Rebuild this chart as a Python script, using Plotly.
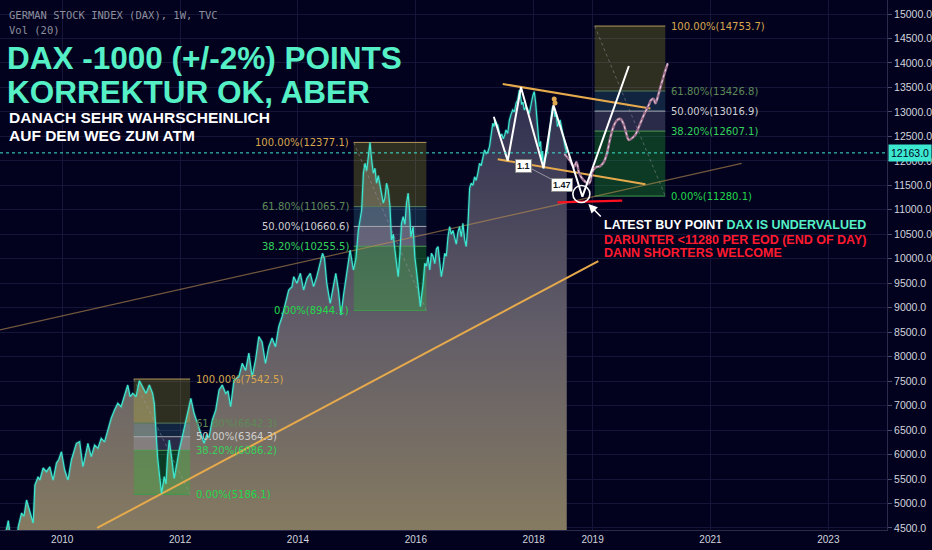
import plotly.graph_objects as go

# ---------------- data ----------------
price_points = [
    (2008.944, 4380), (2009.012, 4300), (2009.063, 4520), (2009.085, 4650), (2009.113, 4400),
    (2009.181, 4100), (2009.232, 4300), (2009.254, 4526), (2009.311, 4806), (2009.350, 4740),
    (2009.395, 5072), (2009.451, 4833), (2009.507, 4602), (2009.536, 5378), (2009.591, 5548),
    (2009.620, 5480), (2009.676, 5725), (2009.733, 5650), (2009.789, 5752), (2009.845, 5480),
    (2009.902, 5827), (2009.941, 5900), (2009.987, 6058), (2010.042, 5685), (2010.098, 5480),
    (2010.155, 5889), (2010.194, 6050), (2010.240, 6230), (2010.296, 6264), (2010.351, 5752),
    (2010.397, 6000), (2010.436, 6230), (2010.493, 5957), (2010.549, 6195), (2010.605, 6130),
    (2010.662, 6332), (2010.718, 6260), (2010.774, 6502), (2010.831, 6741), (2010.887, 6911),
    (2010.943, 7047), (2010.999, 6980), (2011.056, 7217), (2011.112, 7421), (2011.152, 7183),
    (2011.196, 7250), (2011.253, 7183), (2011.309, 7509), (2011.365, 7380), (2011.422, 7250),
    (2011.478, 7421), (2011.534, 7250), (2011.562, 7047), (2011.591, 6366), (2011.618, 5950),
    (2011.647, 5617), (2011.686, 5209), (2011.731, 5550), (2011.760, 5400), (2011.787, 5957),
    (2011.816, 6298), (2011.861, 5890), (2011.900, 5514), (2011.946, 5820), (2011.985, 6093),
    (2012.035, 6350), (2012.098, 6706), (2012.137, 6900), (2012.183, 7149), (2012.238, 6843),
    (2012.294, 6639), (2012.351, 6434), (2012.407, 6230), (2012.449, 6400), (2012.491, 6350),
    (2012.547, 6706), (2012.605, 6911), (2012.661, 7319), (2012.716, 7421), (2012.774, 7250),
    (2012.813, 7300), (2012.858, 6979), (2012.914, 7523), (2012.998, 7591), (2013.054, 7864),
    (2013.112, 7720), (2013.167, 8075), (2013.223, 7591), (2013.280, 7932), (2013.336, 8408),
    (2013.392, 8300), (2013.449, 7864), (2013.505, 8204), (2013.561, 8380), (2013.618, 8204),
    (2013.674, 8612), (2013.730, 8816), (2013.787, 9089), (2013.843, 9362), (2013.899, 9430),
    (2013.928, 9634), (2013.983, 9500), (2014.041, 9703), (2014.096, 9362), (2014.152, 9600),
    (2014.209, 9703), (2014.265, 9430), (2014.321, 9640), (2014.378, 9907), (2014.417, 10111),
    (2014.451, 10000), (2014.490, 9498), (2014.547, 9089), (2014.603, 9430), (2014.642, 9703),
    (2014.688, 9350), (2014.730, 8850), (2014.772, 9250), (2014.814, 9600), (2014.856, 9907),
    (2014.885, 10179), (2014.941, 9770), (2014.983, 10000), (2015.025, 10587), (2015.081, 10996),
    (2015.110, 11747), (2015.138, 11951), (2015.166, 11800), (2015.194, 12050), (2015.223, 12377),
    (2015.250, 12019), (2015.279, 11747), (2015.307, 11850), (2015.334, 11543), (2015.363, 11700),
    (2015.392, 11480), (2015.419, 11339), (2015.448, 11135), (2015.476, 11250), (2015.503, 11543),
    (2015.532, 11400), (2015.561, 11070), (2015.588, 10383), (2015.617, 10500), (2015.645, 10179),
    (2015.672, 9907), (2015.701, 9634), (2015.730, 10100), (2015.757, 10723), (2015.786, 10859),
    (2015.815, 10700), (2015.842, 11135), (2015.870, 11339), (2015.896, 10950), (2015.916, 10450),
    (2015.954, 10655), (2015.983, 10042), (2016.010, 9770), (2016.039, 9498), (2016.059, 9300),
    (2016.078, 9021), (2016.098, 9250), (2016.124, 9498), (2016.152, 9907), (2016.179, 9850),
    (2016.208, 10042), (2016.236, 9770), (2016.264, 10111), (2016.293, 10050), (2016.322, 9900),
    (2016.349, 10200), (2016.377, 10247), (2016.406, 9900), (2016.433, 9634), (2016.462, 9850),
    (2016.490, 10111), (2016.517, 10050), (2016.546, 10450), (2016.574, 10655), (2016.602, 10500),
    (2016.630, 10580), (2016.659, 10450), (2016.686, 10300), (2016.715, 10550), (2016.743, 10655),
    (2016.771, 10450), (2016.799, 10723), (2016.828, 10400), (2016.855, 10250), (2016.884, 10700),
    (2016.913, 11445), (2016.940, 11543), (2016.968, 11500), (2016.997, 11675), (2017.024, 11600),
    (2017.052, 11750), (2017.081, 11951), (2017.108, 11900), (2017.137, 12053), (2017.166, 12222),
    (2017.193, 12150), (2017.221, 12180), (2017.250, 12290), (2017.277, 12494), (2017.306, 12767),
    (2017.326, 12700), (2017.345, 12835), (2017.369, 12760), (2017.390, 12733), (2017.412, 12600),
    (2017.436, 12494), (2017.458, 12550), (2017.483, 12450), (2017.509, 12530), (2017.530, 12631),
    (2017.559, 12560), (2017.588, 12835), (2017.615, 12950), (2017.644, 13039), (2017.673, 13000),
    (2017.700, 13175), (2017.729, 13250), (2017.757, 13447), (2017.779, 13300), (2017.796, 13150),
    (2017.818, 13200), (2017.841, 13039), (2017.868, 13100), (2017.897, 13050), (2017.926, 12971),
    (2017.948, 13150), (2017.970, 13243), (2017.990, 13350), (2018.010, 13413), (2018.032, 13200),
    (2018.049, 12900), (2018.066, 12631), (2018.095, 12290), (2018.117, 12400), (2018.134, 12018),
    (2018.151, 12200), (2018.168, 11848), (2018.185, 12000), (2018.207, 12086), (2018.235, 12222),
    (2018.257, 12450), (2018.281, 12767), (2018.303, 12950), (2018.320, 13106), (2018.342, 13050),
    (2018.362, 12900), (2018.382, 12950), (2018.404, 12699), (2018.426, 12750), (2018.449, 12835),
    (2018.471, 12700), (2018.488, 12562), (2018.510, 12450), (2018.534, 12290), (2018.561, 12163),
]
price_years = [p[0] for p in price_points]
price_values = [p[1] for p in price_points]

current_price = 12163.0

# Fibonacci retracements: start/end year and levels (0%, 38.2%, 50%, 61.8%, 100%)
fib_ratios = [0.0, 0.382, 0.5, 0.618, 1.0]
fib_start = [2011.213, 2014.946, 2019.034]
fib_end = [2012.171, 2016.179, 2020.233]
fib_2011 = [5186.1, 6086.2, 6364.3, 6642.3, 7542.5]
fib_2015 = [8944.1, 10255.5, 10660.6, 11065.7, 12377.1]
fib_2019 = [11280.1, 12607.1, 13016.9, 13426.8, 14753.7]
fib_levels = [fib_2011, fib_2015, fib_2019]
fib_label_side = ["right", "left", "right"]

# drawings
trend_long_x, trend_long_y = [2010.593, 2019.097], [4500, 9954]
trend_brown_x, trend_brown_y = [2008.944, 2021.529], [8545, 11950]
channel_top_x, channel_top_y = [2017.475, 2019.980], [13570, 13070]
channel_bot_x, channel_bot_y = [2017.390, 2019.896], [12032, 11521]
zigzag_x = [2017.323, 2017.559, 2017.784, 2018.167, 2018.336, 2018.826, 2019.615]
zigzag_y = [12902, 12003, 13503, 11848, 13141, 11268, 13938]
forecast_x = [2018.522, 2018.607, 2018.686, 2018.725, 2018.771, 2018.843, 2018.940, 2018.995,
              2019.037, 2019.080, 2019.130, 2019.193, 2019.248, 2019.299, 2019.358, 2019.417,
              2019.473, 2019.531, 2019.569, 2019.615, 2019.671, 2019.722, 2019.798, 2019.869,
              2019.953, 2019.992, 2020.034, 2020.065, 2020.122, 2020.161, 2020.195, 2020.237, 2020.274]
forecast_y = [12140, 12018, 11880, 11977, 11752, 11609, 11541, 11772,
              11853, 11880, 11894, 11983, 12180, 12467, 12712, 12835,
              12855, 12732, 12569, 12426, 12467, 12528, 12733, 12937,
              13141, 13243, 13264, 13176, 13380, 13550, 13686, 13856, 13993]
support_x, support_y = [2018.404, 2019.502], [11153, 11186]
circle_x, circle_y = [2018.809], [11322]
dots_x, dots_y = [2018.348, 2018.362], [13264, 13182]
ext_x, ext_y = [2017.947, 2018.454], [11848, 11527]
ratio_labels = [("1.1", 2017.830, 11895), ("1.47", 2018.488, 11517)]
arrow_head = (2018.928, 11119)
arrow_tail = (2019.164, 10833)

x_ticks = [2010, 2012, 2014, 2016, 2018, 2019, 2021, 2023]
y_ticks = list(range(4500, 15001, 500))

# ---------------- styling ----------------
BG = "#02021f"
GRID = "#15153a"
CYAN = "#3de8d0"
AQUA_TXT = "#55f0c6"
RED = "#ff1a2e"
ORANGE = "#e6aa4c"

W, H = 932, 550
ML, MR, MT, MB = 0, 41, 0, 20
PW, PH = W - ML - MR, H - MT - MB


def px(x):
    return x / PW


def py(y):
    return 1 - y / PH


fig = go.Figure()

# area under the price line
fig.add_trace(go.Scatter(
    x=price_years, y=price_values, mode="lines", line=dict(width=0),
    fill="tozeroy",
    fillgradient=dict(type="vertical", start=4459, stop=13600,
                      colorscale=[[0, "#857a61"], [0.45, "#625d68"], [1, "#2c2c4e"]]),
    hoverinfo="skip", showlegend=False))

# Fibonacci boxes
zone_colors = ["rgba(40,190,50,0.30)", "rgba(180,190,220,0.22)",
               "rgba(80,180,200,0.20)", "rgba(210,210,40,0.22)"]
line_colors = ["#3f9a4c", "#4f9a52", "#a8aab0", "#557a5c", "#b49a5a"]
label_colors = ["#22d84a", "#34d35a", "#cfcfcf", "#5f8a58", "#d8a74c"]
annotations = []
for k, lv in enumerate(fib_levels):
    x0, x1 = fib_start[k], fib_end[k]
    for i in range(4):
        fig.add_trace(go.Scatter(
            x=[x0, x1, x1, x0, x0], y=[lv[i], lv[i], lv[i + 1], lv[i + 1], lv[i]],
            mode="lines", fill="toself", fillcolor=zone_colors[i], line=dict(width=0),
            hoverinfo="skip", showlegend=False))
    for i in range(5):
        fig.add_trace(go.Scatter(
            x=[x0, x1], y=[lv[i], lv[i]], mode="lines",
            line=dict(color=line_colors[i], width=1), hoverinfo="skip", showlegend=False))
    fig.add_trace(go.Scatter(
        x=[x0, x1], y=[lv[4], lv[0]], mode="lines",
        line=dict(color="rgba(160,160,175,0.45)", width=1, dash="dot"),
        hoverinfo="skip", showlegend=False))
    for i in range(5):
        txt = f"{fib_ratios[i] * 100:.2f}%({lv[i]:.1f})"
        if fib_label_side[k] == "left":
            annotations.append(dict(x=x0, y=lv[i], xref="x", yref="y", text=txt, showarrow=False,
                                    xanchor="right", yanchor="middle", xshift=-3,
                                    font=dict(family="DejaVu Sans", size=10, color=label_colors[i])))
        else:
            annotations.append(dict(x=x1, y=lv[i], xref="x", yref="y", text=txt, showarrow=False,
                                    xanchor="left", yanchor="middle", xshift=4,
                                    font=dict(family="DejaVu Sans", size=10, color=label_colors[i])))

# trend lines
fig.add_trace(go.Scatter(x=trend_brown_x, y=trend_brown_y, mode="lines",
                         line=dict(color="rgba(190,145,80,0.6)", width=1.2),
                         hoverinfo="skip", showlegend=False))
fig.add_trace(go.Scatter(x=trend_long_x, y=trend_long_y, mode="lines",
                         line=dict(color=ORANGE, width=2), hoverinfo="skip", showlegend=False))

# price line (soft glow + line)
fig.add_trace(go.Scatter(x=price_years, y=price_values, mode="lines",
                         line=dict(color="rgba(61,232,208,0.18)", width=3),
                         hoverinfo="skip", showlegend=False))
fig.add_trace(go.Scatter(x=price_years, y=price_values, mode="lines",
                         line=dict(color=CYAN, width=1.2), showlegend=False))

# channel
for cx, cy in [(channel_top_x, channel_top_y), (channel_bot_x, channel_bot_y)]:
    fig.add_trace(go.Scatter(x=cx, y=cy, mode="lines", line=dict(color=ORANGE, width=2),
                             hoverinfo="skip", showlegend=False))

# extension line between ratio labels
fig.add_trace(go.Scatter(x=ext_x, y=ext_y, mode="lines",
                         line=dict(color="rgba(170,170,180,0.8)", width=1),
                         hoverinfo="skip", showlegend=False))

# forecast curve
fig.add_trace(go.Scatter(x=forecast_x, y=forecast_y, mode="lines",
                         line=dict(color="#9c6f8c", width=2.6, shape="spline"),
                         hoverinfo="skip", showlegend=False))
fig.add_trace(go.Scatter(x=forecast_x, y=forecast_y, mode="lines",
                         line=dict(color="#f0dbe8", width=1, dash="dot", shape="spline"),
                         hoverinfo="skip", showlegend=False))

# zigzag
fig.add_trace(go.Scatter(x=zigzag_x, y=zigzag_y, mode="lines",
                         line=dict(color="white", width=2), hoverinfo="skip", showlegend=False))

# support red line
fig.add_trace(go.Scatter(x=support_x, y=support_y, mode="lines",
                         line=dict(color="#ff1020", width=2.2), hoverinfo="skip", showlegend=False))

# circle and dots
fig.add_trace(go.Scatter(x=circle_x, y=circle_y, mode="markers",
                         marker=dict(symbol="circle-open", size=17, color="white",
                                     line=dict(color="white", width=1.6)),
                         hoverinfo="skip", showlegend=False))
fig.add_trace(go.Scatter(x=dots_x, y=dots_y, mode="markers",
                         marker=dict(size=5, color="#e0a850"), hoverinfo="skip", showlegend=False))

# current price line
fig.add_shape(type="line", xref="paper", x0=0, x1=1, yref="y", y0=current_price, y1=current_price,
              line=dict(color=CYAN, width=1, dash="dot"), layer="above")

# ratio labels
for t, lx, ly in ratio_labels:
    annotations.append(dict(x=lx, y=ly, xref="x", yref="y", text=f"<b>{t}</b>", showarrow=False,
                            bgcolor="white", bordercolor="#888888", borderwidth=1, borderpad=1,
                            font=dict(family="Liberation Sans", size=9, color="#131722")))

# arrow
annotations.append(dict(x=arrow_head[0], y=arrow_head[1], xref="x", yref="y",
                        ax=arrow_tail[0], ay=arrow_tail[1], axref="x", ayref="y",
                        text="", showarrow=True, arrowhead=2, arrowsize=1.2, arrowwidth=1.5,
                        arrowcolor="white"))

# current price axis label
annotations.append(dict(x=1, xref="paper", y=current_price, yref="y", text=f"{current_price:.1f}",
                        showarrow=False, xanchor="left", yanchor="middle", xshift=1,
                        bgcolor=CYAN, borderpad=2,
                        font=dict(family="Liberation Sans", size=10.5, color=BG)))

# header texts
annotations += [
    dict(x=px(7), y=py(15), xref="paper", yref="paper", xanchor="left", yanchor="middle",
         text="GERMAN STOCK INDEX (DAX), 1W, TVC", showarrow=False,
         font=dict(family="DejaVu Sans Mono", size=10.5, color="#8d8f9c")),
    dict(x=px(7), y=py(30), xref="paper", yref="paper", xanchor="left", yanchor="middle",
         text="Vol (20)", showarrow=False,
         font=dict(family="DejaVu Sans Mono", size=10.5, color="#8d8f9c")),
    dict(x=px(5), y=py(58), xref="paper", yref="paper", xanchor="left", yanchor="middle",
         text="<b>DAX -1000 (+/-2%) POINTS</b>", showarrow=False,
         font=dict(family="Liberation Sans", size=31.5, color=AQUA_TXT)),
    dict(x=px(5), y=py(92), xref="paper", yref="paper", xanchor="left", yanchor="middle",
         text="<b>KORREKTUR OK, ABER</b>", showarrow=False,
         font=dict(family="Liberation Sans", size=31.5, color=AQUA_TXT)),
    dict(x=px(7), y=py(118), xref="paper", yref="paper", xanchor="left", yanchor="middle",
         text="<b>DANACH SEHR WAHRSCHEINLICH</b>", showarrow=False,
         font=dict(family="Liberation Sans", size=15.5, color="white")),
    dict(x=px(7), y=py(135), xref="paper", yref="paper", xanchor="left", yanchor="middle",
         text="<b>AUF DEM WEG ZUM ATM</b>", showarrow=False,
         font=dict(family="Liberation Sans", size=15.5, color="white")),
    dict(x=px(605), y=py(225), xref="paper", yref="paper", xanchor="left", yanchor="middle",
         text=f"<b>LATEST BUY POINT <span style='color:{AQUA_TXT}'>DAX IS UNDERVALUED</span></b>",
         showarrow=False, font=dict(family="Liberation Sans", size=12.5, color="white")),
    dict(x=px(605), y=py(239.5), xref="paper", yref="paper", xanchor="left", yanchor="middle",
         text="<b>DARUNTER &lt;11280 PER EOD (END OF DAY)</b>", showarrow=False,
         font=dict(family="Liberation Sans", size=12.5, color=RED)),
    dict(x=px(605), y=py(253), xref="paper", yref="paper", xanchor="left", yanchor="middle",
         text="<b>DANN SHORTERS WELCOME</b>", showarrow=False,
         font=dict(family="Liberation Sans", size=12.5, color=RED)),
]

x_min = 2008.9443
x_max = x_min + PW / 59.2

fig.update_layout(
    width=W, height=H,
    margin=dict(l=ML, r=MR, t=MT, b=MB, pad=0),
    paper_bgcolor=BG, plot_bgcolor=BG,
    showlegend=False,
    annotations=annotations,
    xaxis=dict(range=[x_min, x_max], tickvals=x_ticks, ticktext=[str(v) for v in x_ticks],
               showgrid=True, gridcolor=GRID, gridwidth=1, zeroline=False,
               showline=True, linecolor="#2a2a4a", ticks="", ticklen=0,
               tickfont=dict(family="Liberation Sans", size=10, color="#d1d4dc"), fixedrange=True),
    yaxis=dict(range=[4459, 15286], side="right", tickvals=y_ticks,
               ticktext=[f"{v:.1f}" for v in y_ticks],
               showgrid=True, gridcolor=GRID, gridwidth=1, zeroline=False,
               showline=True, linecolor="#2a2a4a", ticks="outside", ticklen=4, tickcolor="#4a4a6a",
               tickfont=dict(family="Liberation Sans", size=10.5, color="#d1d4dc"), fixedrange=True),
)

fig.write_html("out.html")
